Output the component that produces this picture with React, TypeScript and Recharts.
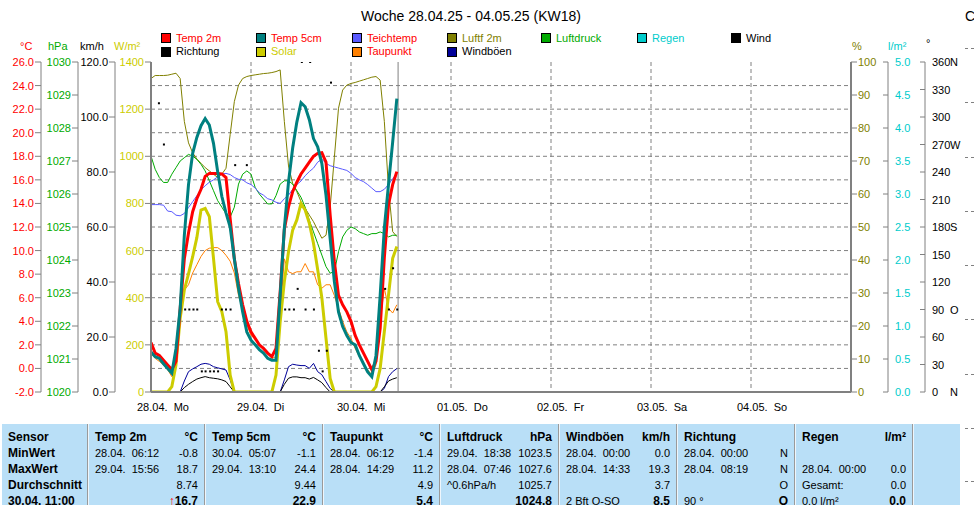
import React from 'react';
import { ComposedChart, Line, Scatter, XAxis, YAxis, CartesianGrid, ReferenceLine } from 'recharts';

const FONT = '"Liberation Sans", Arial, Helvetica, sans-serif';
const GRAY = '#808080';

const C_TEMP = '#ff0000';
const C_SOIL = '#008080';
const C_POND = '#5a5aff';
const C_HUM = '#808000';
const C_PRES = '#00aa00';
const C_RAIN = '#00cccc';
const C_WIND = '#000000';
const C_SOLAR = '#cccc00';
const C_DEW = '#ff8000';
const C_GUST = '#000099';

// ---- hourly data from 28.04. 00:00 (hour 0) to 30.04. 11:00 (hour 59) ----
const temp2m = [
  2.2, 1.3, 1.1, 0.7, 0.3, -0.1, 0.6, 5.1, 9.3, 11.5, 13.3, 14.4,
  15.2, 16.3, 16.55, 16.55, 16.55, 16.5, 16.2, 12.7, 9.3, 7.2, 5.4, 4.0,
  3.1, 2.55, 2.0, 1.7, 1.3, 1.0, 1.7, 6.5, 11.8, 13.7, 15.0, 15.8,
  16.5, 17.0, 17.5, 18.0, 18.25, 18.3, 17.5, 13.0, 9.1, 6.2, 5.4, 4.8,
  4.0, 2.8, 2.0, 1.3, 0.6, -0.1, 0.6, 3.4, 9.4, 13.9, 15.6, 16.7,
];
const temp5cm = [
  1.4, 1.0, 0.85, 0.4, 0.0, -0.4, 1.7, 5.1, 11.3, 15.6, 18.25, 19.6,
  20.6, 21.2, 20.65, 19.1, 16.7, 14.6, 13.2, 12.0, 9.3, 6.8, 4.8, 3.1,
  2.4, 2.0, 1.6, 1.3, 0.86, 0.7, 0.7, 6.2, 11.9, 15.8, 18.7, 20.9,
  22.55, 22.2, 21.1, 19.5, 18.8, 17.4, 14.7, 11.0, 7.4, 4.8, 3.55, 2.8,
  2.2, 2.0, 1.1, 0.4, -0.3, -0.7, 1.1, 6.2, 11.9, 15.6, 19.2, 22.9,
];
const dewPoint = [
  1.3, 0.85, 0.6, 0.3, -0.1, -0.7, 1.1, 4.5, 6.65, 7.1, 8.1, 8.8,
  9.5, 10.0, 10.2, 10.25, 10.25, 10.0, 9.6, 9.1, 8.1, 6.2, 5.0, 3.7,
  2.8, 2.5, 2.1, 1.7, 1.4, 0.85, 1.0, 4.5, 9.3, 8.2, 8.05, 8.2,
  8.2, 8.9, 8.2, 8.2, 7.1, 6.8, 7.1, 7.1, 6.2, 5.1, 4.0, 3.1,
  2.55, 1.7, 1.0, 0.4, -0.1, -0.55, 0.3, 4.0, 6.8, 5.1, 4.7, 5.4,
];
const pondTemp = [
  13.9, 13.9, 13.9, 13.85, 13.35, 13.3, 13.0, 12.95, 13.15, 13.65, 14.15, 14.65,
  15.15, 15.5, 15.8, 16.0, 16.25, 16.5, 16.55, 16.45, 16.2, 16.05, 16.0, 15.75,
  15.6, 15.3, 14.9, 14.7, 14.4, 14.3, 14.1, 14.0, 14.4, 14.7, 15.2, 15.6,
  15.9, 16.35, 16.7, 17.0, 17.5, 17.75, 17.4, 17.2, 17.1, 17.0, 16.9, 16.8,
  16.55, 16.2, 16.0, 15.85, 15.6, 15.3, 15.0, 15.0, 15.2, 15.6, 16.1, 16.55,
];
const humidity = [
  95.0, 95.9, 95.9, 95.9, 96.0, 96.3, 96.6, 95.0, 82.0, 75.5, 72.5, 70.6,
  69.3, 68.0, 67.0, 66.0, 65.0, 66.0, 67.8, 78.0, 88.0, 93.0, 95.0, 95.6,
  95.9, 96.1, 96.3, 96.5, 96.6, 96.8, 97.1, 97.6, 82.0, 68.5, 63.2, 60.7,
  57.7, 55.7, 53.6, 51.6, 49.1, 46.6, 47.5, 56.0, 71.0, 86.0, 91.5, 93.0,
  93.5, 93.8, 94.2, 94.6, 95.0, 95.4, 95.6, 94.5, 82.0, 61.7, 48.6, 47.1,
];
const pressure = [
  1027.15, 1026.75, 1026.5, 1026.35, 1026.35, 1026.6, 1026.8, 1027.0, 1027.1, 1027.2, 1027.15, 1027.05,
  1026.9, 1026.7, 1026.4, 1026.1, 1025.8, 1025.6, 1025.4, 1025.3, 1025.6, 1026.3, 1026.6, 1026.7,
  1026.6, 1026.2, 1026.0, 1025.85, 1025.7, 1025.7, 1025.95, 1026.3, 1026.4, 1026.4, 1026.3, 1026.1,
  1025.9, 1025.6, 1025.2, 1024.85, 1024.5, 1024.15, 1023.8, 1023.6, 1023.65, 1024.25, 1024.7, 1024.9,
  1025.0, 1024.95, 1024.85, 1024.8, 1024.75, 1024.8, 1024.8, 1024.85, 1024.8, 1024.7, 1024.75, 1024.75,
];
const solar = [
  0, 0, 0, 0, 0, 23, 115, 313, 433, 501, 574, 655,
  772, 779, 744, 567, 383, 341, 256, 72, 0, 0, 0, 0,
  0, 0, 0, 0, 0, 0, 72, 298, 468, 595, 687, 730,
  800, 772, 716, 631, 520, 400, 228, 58, 0, 0, 0, 0,
  0, 0, 0, 0, 0, 0, 23, 100, 256, 411, 567, 617,
];
const wind = [
  0, 0, 0, 0, 0, 0, 0, 0, 1.6, 2.8, 3.8, 4.7,
  5.2, 5.6, 5.2, 5.0, 4.8, 4.4, 3.8, 1.9, 0, 0, 0, 0,
  0, 0, 0, 0, 0, 0, 0, 0, 2.8, 5.0, 5.5, 5.5,
  5.2, 5.2, 4.7, 5.3, 4.4, 3.4, 1.6, 0, 0, 0, 0, 0,
  0, 0, 0, 0, 0, 0, 0, 0, 1.9, 4.0, 4.7, 5.2,
];
const gusts = [
  0, 0, 0, 0, 0, 0, 0, 0, 4.0, 7.4, 8.4, 9.2,
  10.1, 10.4, 10.1, 9.2, 8.8, 8.4, 8.0, 4.4, 0, 0, 0, 0,
  0, 0, 0, 0, 0, 0, 0, 0, 4.4, 9.2, 10.1, 9.8,
  9.6, 9.6, 8.6, 10.4, 7.4, 6.3, 3.8, 1.3, 0, 0, 0, 0,
  0, 0, 0, 0, 0, 0, 0, 0, 1.3, 5.6, 7.4, 8.5,
];
const rain = [
  0, 0, 0, 0, 0, 0, 0, 0, 0, 0, 0, 0,
  0, 0, 0, 0, 0, 0, 0, 0, 0, 0, 0, 0,
  0, 0, 0, 0, 0, 0, 0, 0, 0, 0, 0, 0,
  0, 0, 0, 0, 0, 0, 0, 0, 0, 0, 0, 0,
  0, 0, 0, 0, 0, 0, 0, 0, 0, 0, 0, 0,
];

// wind direction samples (hour, degrees)
const dirHours = [1.9, 3.1, 8.2, 9.2, 10.2, 11.1, 12.2, 13.1, 14.2, 15.1, 16.1, 17.0, 18.0, 19.1, 20.2, 23.0,
  32.2, 33.2, 34.3, 35.2, 36.2, 37.1, 38.2, 39.1, 40.3, 41.2, 42.2, 43.2, 56.2, 57.1, 58.1, 59.1];
const dirDeg = [315, 270, 90, 90, 90, 90, 22.5, 22.5, 22.5, 22.5, 22.5, 90, 90, 90, 247.5, 247.5,
  90, 90, 90, 112.5, 360, 90, 360, 90, 45, 22.5, 45, 337.5, 112.5, 90, 135, 90];

const NOW_HOUR = 59.3;

// ---- axes ----
const dayTicks = [0, 24, 48, 72, 96, 120, 144, 168];
const dayLabels = ['28.04.  Mo', '29.04.  Di', '30.04.  Mi', '01.05.  Do', '02.05.  Fr', '03.05.  Sa', '04.05.  So', ''];
const tempTicks = [-2, 0, 2, 4, 6, 8, 10, 12, 14, 16, 18, 20, 22, 24, 26];
const presTicks = [1020, 1021, 1022, 1023, 1024, 1025, 1026, 1027, 1028, 1029, 1030];
const windTicks = [0, 20, 40, 60, 80, 100, 120];
const solarTicks = [0, 200, 400, 600, 800, 1000, 1200, 1400];
const humTicks = [0, 10, 20, 30, 40, 50, 60, 70, 80, 90, 100];
const rainTicks = [0, 0.5, 1, 1.5, 2, 2.5, 3, 3.5, 4, 4.5, 5];
const dirTicks = [0, 30, 60, 90, 120, 150, 180, 210, 240, 270, 300, 330, 360];
const dirNames: Record<number, string> = { 0: 'N', 90: 'O', 180: 'S', 270: 'W', 360: 'N' };

const hours = temp2m.map((_, i) => i);
const rows = hours.map((h, i) => ({
  h,
  temp2m: temp2m[i],
  temp5cm: temp5cm[i],
  dew: dewPoint[i],
  pond: pondTemp[i],
  hum: humidity[i],
  pres: pressure[i],
  solar: solar[i],
  wind: wind[i],
  gust: gusts[i],
  rain: rain[i],
}));
const dirRows = dirHours.map((h, i) => ({ h, deg: dirDeg[i] }));

// ---- legend & table ----
const legendRow1 = [
  { label: 'Temp 2m', swatch: C_TEMP, text: '#ff0000' },
  { label: 'Temp 5cm', swatch: C_SOIL, text: '#ff0000' },
  { label: 'Teichtemp', swatch: C_POND, text: '#ff0000' },
  { label: 'Luftf 2m', swatch: C_HUM, text: '#808000' },
  { label: 'Luftdruck', swatch: C_PRES, text: '#00aa00' },
  { label: 'Regen', swatch: C_RAIN, text: '#00cccc' },
  { label: 'Wind', swatch: C_WIND, text: '#000000' },
];
const legendRow2 = [
  { label: 'Richtung', swatch: '#000000', text: '#000000' },
  { label: 'Solar', swatch: C_SOLAR, text: '#cccc00' },
  { label: 'Taupunkt', swatch: C_DEW, text: '#ff0000' },
  { label: 'Windböen', swatch: C_GUST, text: '#000000' },
];
const legendX = [161, 256, 352, 447, 541, 637, 731];

const rowLabels = ['Sensor', 'MinWert', 'MaxWert', 'Durchschnitt', '30.04. 11:00'];
const tableCols = [
  { head: ['Temp 2m', '°C'], rows: [['28.04.  06:12', '-0.8'], ['29.04.  15:56', '18.7'], ['', '8.74']], now: ['', '16.7'], arrow: true },
  { head: ['Temp 5cm', '°C'], rows: [['30.04.  05:07', '-1.1'], ['29.04.  13:10', '24.4'], ['', '9.44']], now: ['', '22.9'] },
  { head: ['Taupunkt', '°C'], rows: [['28.04.  06:12', '-1.4'], ['28.04.  14:29', '11.2'], ['', '4.9']], now: ['', '5.4'] },
  { head: ['Luftdruck', 'hPa'], rows: [['29.04.  18:38', '1023.5'], ['28.04.  07:46', '1027.6'], ['^0.6hPa/h', '1025.7']], now: ['', '1024.8'] },
  { head: ['Windböen', 'km/h'], rows: [['28.04.  00:00', '0.0'], ['28.04.  14:33', '19.3'], ['', '3.7']], now: ['2 Bft O-SO', '8.5'] },
  { head: ['Richtung', ''], rows: [['28.04.  00:00', 'N'], ['28.04.  08:19', 'N'], ['', 'O']], now: ['90 °', 'O'] },
  { head: ['Regen', 'l/m²'], rows: [['', ''], ['28.04.  00:00', '0.0'], ['Gesamt:', '0.0']], now: ['0.0 l/m²', '0.0'] },
];
const tableSeps = [87, 204, 322, 439, 558, 676, 794, 912];

// ---- ticks ----
function LeftTick(props: any) {
  const { x, y, payload, color, fmt } = props;
  return (
    <g>
      <line x1={x - 6} y1={y} x2={x} y2={y} stroke={GRAY} />
      <text x={x - 7} y={y} textAnchor="end" dominantBaseline="central" fill={color} fontSize={11} fontFamily={FONT}>
        {fmt(payload.value)}
      </text>
    </g>
  );
}
function RightTick(props: any) {
  const { x, y, payload, color, fmt, inward } = props;
  return (
    <g>
      {inward ? <line x1={x - 5} y1={y} x2={x} y2={y} stroke={GRAY} /> : <line x1={x} y1={y} x2={x + 6} y2={y} stroke={GRAY} />}
      <text x={x + 7} y={y} textAnchor="start" dominantBaseline="central" fill={color} fontSize={11} fontFamily={FONT}>
        {fmt(payload.value)}
      </text>
    </g>
  );
}
function DirTick(props: any) {
  const { x, y, payload } = props;
  const v = payload.value;
  return (
    <g>
      <line x1={x - 5} y1={y} x2={x} y2={y} stroke={GRAY} />
      <text x={x + 7} y={y} textAnchor="start" dominantBaseline="central" fill="#000" fontSize={11} fontFamily={FONT}>{v}</text>
      {dirNames[v] ? (
        <text x={x + 25} y={y} textAnchor="start" dominantBaseline="central" fill="#000" fontSize={11} fontFamily={FONT}>{dirNames[v]}</text>
      ) : null}
    </g>
  );
}
function DayTick(props: any) {
  const { x, y, payload } = props;
  const label = dayLabels[dayTicks.indexOf(payload.value)] || '';
  return (
    <text x={x - 14} y={y + 15} textAnchor="start" dominantBaseline="central" fill="#000" fontSize={11} fontFamily={FONT} style={{ whiteSpace: 'pre' }}>
      {label}
    </text>
  );
}

const f1 = (v: number) => v.toFixed(1);
const f0 = (v: number) => String(v);

const dotShape = (p: any) => <rect x={p.cx - 1} y={p.cy - 1} width={2} height={2} fill="#000" />;

const abs = (left: number, top: number, extra: React.CSSProperties = {}): React.CSSProperties => ({
  position: 'absolute', left, top, whiteSpace: 'pre', ...extra,
});

// axis ids sort so that the first one lies next to the plot
const Y_SOLAR = 'L1solar';
const Y_WIND = 'L2wind';
const Y_PRES = 'L3pres';
const Y_TEMP = 'L4temp';
const Y_HUM = 'R1hum';
const Y_RAIN = 'R2rain';
const Y_DIR = 'R3dir';

export default function App() {
  return (
    <div style={{ position: 'absolute', left: 0, top: 0, width: 974, height: 505, overflow: 'hidden', background: '#fff', fontFamily: FONT, fontSize: 11, color: '#000' }}>
      <div style={{ position: 'absolute', left: 0, top: 0 }}>
        <ComposedChart width={974} height={420} data={rows} margin={{ top: 62, right: 0, bottom: 0, left: 0 }}>
          <CartesianGrid xAxisId="main" yAxisId={Y_TEMP} horizontal={false} stroke={GRAY} strokeDasharray="4 3" />
          {tempTicks.slice(1, -1).map((t) => (
            <ReferenceLine key={'g' + t} xAxisId="main" yAxisId={Y_TEMP} y={t} stroke={GRAY} strokeDasharray="4 3" />
          ))}
          <XAxis xAxisId="main" dataKey="h" type="number" domain={[0, 168]} ticks={dayTicks} interval={0} height={28}
            tickSize={0} tickMargin={0} tickLine={false} axisLine={{ stroke: GRAY, strokeWidth: 2 }} tick={DayTick} allowDataOverflow />
          <XAxis xAxisId="top" orientation="top" dataKey="h" type="number" domain={[0, 168]} height={0}
            tick={false} tickLine={false} axisLine={{ stroke: GRAY, strokeWidth: 2 }} allowDataOverflow />
          <YAxis yAxisId={Y_SOLAR} orientation="left" width={36} domain={[0, 1400]} ticks={solarTicks} interval={0} allowDataOverflow
            tickSize={0} tickMargin={0} tickLine={false} axisLine={{ stroke: GRAY, strokeWidth: 2 }}
            tick={(p: any) => <LeftTick {...p} color="#cccc00" fmt={f0} />} />
          <YAxis yAxisId={Y_WIND} orientation="left" width={37} domain={[0, 120]} ticks={windTicks} interval={0} allowDataOverflow
            tickSize={0} tickMargin={0} tickLine={false} axisLine={{ stroke: GRAY }}
            tick={(p: any) => <LeftTick {...p} color="#000" fmt={f1} />} />
          <YAxis yAxisId={Y_PRES} orientation="left" width={37} domain={[1020, 1030]} ticks={presTicks} interval={0} allowDataOverflow
            tickSize={0} tickMargin={0} tickLine={false} axisLine={{ stroke: GRAY }}
            tick={(p: any) => <LeftTick {...p} color="#00aa00" fmt={f0} />} />
          <YAxis yAxisId={Y_TEMP} orientation="left" width={41} domain={[-2, 26]} ticks={tempTicks} interval={0} allowDataOverflow
            tickSize={0} tickMargin={0} tickLine={false} axisLine={{ stroke: GRAY }}
            tick={(p: any) => <LeftTick {...p} color="#ff0000" fmt={f1} />} />
          <YAxis yAxisId={Y_HUM} orientation="right" width={37} domain={[0, 100]} ticks={humTicks} interval={0} allowDataOverflow
            tickSize={0} tickMargin={0} tickLine={false} axisLine={{ stroke: GRAY, strokeWidth: 2 }}
            tick={(p: any) => <RightTick {...p} color="#808000" fmt={f0} />} />
          <YAxis yAxisId={Y_RAIN} orientation="right" width={37} domain={[0, 5]} ticks={rainTicks} interval={0} allowDataOverflow
            tickSize={0} tickMargin={0} tickLine={false} axisLine={{ stroke: GRAY }}
            tick={(p: any) => <RightTick {...p} color="#00cccc" fmt={f1} inward />} />
          <YAxis yAxisId={Y_DIR} orientation="right" width={49} domain={[0, 360]} ticks={dirTicks} interval={0} allowDataOverflow
            tickSize={0} tickMargin={0} tickLine={false} axisLine={{ stroke: GRAY }}
            tick={DirTick} />

          <ReferenceLine xAxisId="main" yAxisId={Y_TEMP} x={NOW_HOUR} stroke={GRAY} strokeWidth={1} />

          <Line xAxisId="main" yAxisId={Y_HUM} dataKey="hum" stroke={C_HUM} strokeWidth={1} dot={false} isAnimationActive={false} type="linear" />
          <Line xAxisId="main" yAxisId={Y_PRES} dataKey="pres" stroke={C_PRES} strokeWidth={1} dot={false} isAnimationActive={false} type="linear" />
          <Line xAxisId="main" yAxisId={Y_TEMP} dataKey="pond" stroke={C_POND} strokeWidth={1} dot={false} isAnimationActive={false} type="linear" />
          <Line xAxisId="main" yAxisId={Y_TEMP} dataKey="dew" stroke={C_DEW} strokeWidth={1} dot={false} isAnimationActive={false} type="linear" />
          <Line xAxisId="main" yAxisId={Y_WIND} dataKey="gust" stroke={C_GUST} strokeWidth={1} dot={false} isAnimationActive={false} type="linear" />
          <Line xAxisId="main" yAxisId={Y_WIND} dataKey="wind" stroke={C_WIND} strokeWidth={1} dot={false} isAnimationActive={false} type="linear" />
          <Line xAxisId="main" yAxisId={Y_SOLAR} dataKey="solar" stroke={C_SOLAR} strokeWidth={3} dot={false} isAnimationActive={false} type="linear" />
          <Line xAxisId="main" yAxisId={Y_TEMP} dataKey="temp2m" stroke={C_TEMP} strokeWidth={3} dot={false} isAnimationActive={false} type="linear" />
          <Line xAxisId="main" yAxisId={Y_TEMP} dataKey="temp5cm" stroke={C_SOIL} strokeWidth={3} dot={false} isAnimationActive={false} type="linear" />
          <Line xAxisId="main" yAxisId={Y_RAIN} dataKey="rain" stroke={C_RAIN} strokeWidth={2} dot={false} isAnimationActive={false} type="linear" />
          <Scatter xAxisId="main" yAxisId={Y_DIR} data={dirRows} dataKey="deg" fill="#000" shape={dotShape} isAnimationActive={false} />
        </ComposedChart>
      </div>

      {/* title */}
      <div style={{ position: 'absolute', left: 0, top: 7, width: 942, textAlign: 'center', fontSize: 14, lineHeight: '18px' }}>
        Woche 28.04.25 - 04.05.25 (KW18)
      </div>
      <div style={abs(965, 7, { fontSize: 14, lineHeight: '18px' })}>C</div>

      {/* legend */}
      {legendRow1.map((it, i) => (
        <React.Fragment key={'l1' + i}>
          <div style={abs(legendX[i], 33, { width: 8, height: 8, background: it.swatch, border: '1px solid #000' })} />
          <div style={abs(legendX[i] + 15, 32, { color: it.text, lineHeight: '13px' })}>{it.label}</div>
        </React.Fragment>
      ))}
      {legendRow2.map((it, i) => (
        <React.Fragment key={'l2' + i}>
          <div style={abs(legendX[i], 47, { width: 8, height: 8, background: it.swatch, border: '1px solid #000' })} />
          <div style={abs(legendX[i] + 15, 45, { color: it.text, lineHeight: '13px' })}>{it.label}</div>
        </React.Fragment>
      ))}

      {/* axis units */}
      <div style={abs(20, 40, { color: '#ff0000', lineHeight: '13px' })}>°C</div>
      <div style={abs(48, 40, { color: '#00aa00', lineHeight: '13px' })}>hPa</div>
      <div style={abs(80, 40, { color: '#000', lineHeight: '13px' })}>km/h</div>
      <div style={abs(114, 40, { color: '#cccc00', lineHeight: '13px' })}>W/m²</div>
      <div style={abs(852, 40, { color: '#808000', lineHeight: '13px' })}>%</div>
      <div style={abs(888, 40, { color: '#00cccc', lineHeight: '13px' })}>l/m²</div>
      <div style={abs(926, 37, { color: '#000', lineHeight: '13px' })}>°</div>

      {/* table */}
      <div style={{ position: 'absolute', left: 2, top: 424, width: 958, height: 90, background: '#b9dff7' }} />
      {tableSeps.map((sx, i) => (
        <div key={'s' + i} style={{ position: 'absolute', left: sx, top: 424, width: 1, height: 90, background: '#9a9a9a', borderRight: '1px solid #eef6fc' }} />
      ))}
      {rowLabels.map((t, r) => (
        <div key={'rl' + r} style={abs(8, 429 + r * 16, { fontWeight: 'bold', fontSize: 12, lineHeight: '16px' })}>{t}</div>
      ))}
      {tableCols.map((col, c) => {
        const x0 = tableSeps[c] + 2;
        const x1 = tableSeps[c + 1];
        const w = x1 - x0 - 6;
        const cellL = (txt: string, r: number, bold: boolean) => (
          <div style={abs(x0 + 6, 429 + r * 16, { lineHeight: '16px', fontWeight: bold ? 'bold' : 'normal', fontSize: bold ? 12 : 11 })}>{txt}</div>
        );
        const cellR = (txt: React.ReactNode, r: number, bold: boolean) => (
          <div style={abs(x0, 429 + r * 16, { width: w, textAlign: 'right', lineHeight: '16px', fontWeight: bold ? 'bold' : 'normal', fontSize: bold ? 12 : 11 })}>{txt}</div>
        );
        return (
          <React.Fragment key={'c' + c}>
            {cellL(col.head[0], 0, true)}
            {cellR(col.head[1], 0, true)}
            {col.rows.map((rw, r) => (
              <React.Fragment key={r}>
                {cellL(rw[0], r + 1, false)}
                {cellR(rw[1], r + 1, false)}
              </React.Fragment>
            ))}
            {cellL(col.now[0], 4, false)}
            {cellR(col.arrow ? (<><span style={{ color: '#ff0000' }}>↑</span>{col.now[1]}</>) : col.now[1], 4, true)}
          </React.Fragment>
        );
      })}

      {/* neighbouring panel edge */}
      {[48, 102, 157, 211, 265, 319, 374, 428, 481].map((y, i) => (
        <React.Fragment key={'d' + i}>
          <div style={{ position: 'absolute', left: 965, top: y, width: 3, height: 1, background: GRAY }} />
          <div style={{ position: 'absolute', left: 971, top: y, width: 3, height: 1, background: GRAY }} />
        </React.Fragment>
      ))}
    </div>
  );
}
